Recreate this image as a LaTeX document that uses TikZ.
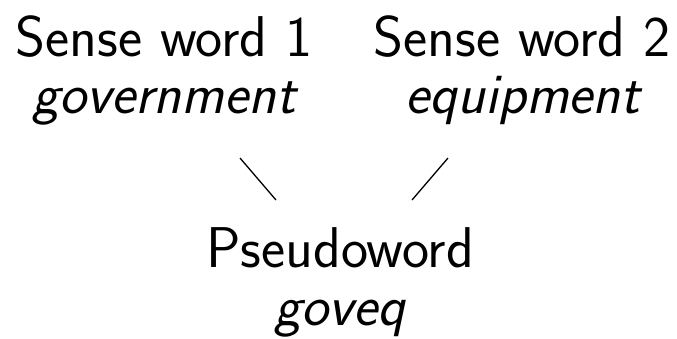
\documentclass[tikz,border=0pt]{standalone}
\usepackage{fontspec}
\usetikzlibrary{calc}
\begin{document}
\begin{tikzpicture}[x=1pt,y=-1pt,
  word/.style={anchor=base,inner sep=0pt,font=\fontsize{57.5}{62}\selectfont\sffamily},
  gloss/.style={word,font=\fontsize{57.5}{62}\selectfont\sffamily\itshape},
  link/.style={line width=1.3pt}]
  \useasboundingbox (0,0) rectangle (677,338);
  % the two sense words
  \node[word]  (sense1) at (164,56)  {Sense word 1};
  \node[gloss] (gov)    at (164,113) {government};
  \node[word]  (sense2) at (522,56)  {Sense word 2};
  \node[gloss] (equip)  at (523,113) {equipment};
  % the pseudoword they merge into
  \node[word]  (pseudo) at (340,267) {Pseudoword};
  \node[gloss] (goveq)  at (340,325) {goveq};
  % ends of the two short links
  \coordinate (govend)   at ($(gov.base)+(76,45)$);
  \coordinate (equipend) at ($(equip.base)+(-75,45)$);
  \coordinate (pleft)    at ($(pseudo.base)+(-64,-67)$);
  \coordinate (pright)   at ($(pseudo.base)+(72,-67)$);
  \draw[link] (govend) -- (pleft);
  \draw[link] (equipend) -- (pright);
\end{tikzpicture}
\end{document}
